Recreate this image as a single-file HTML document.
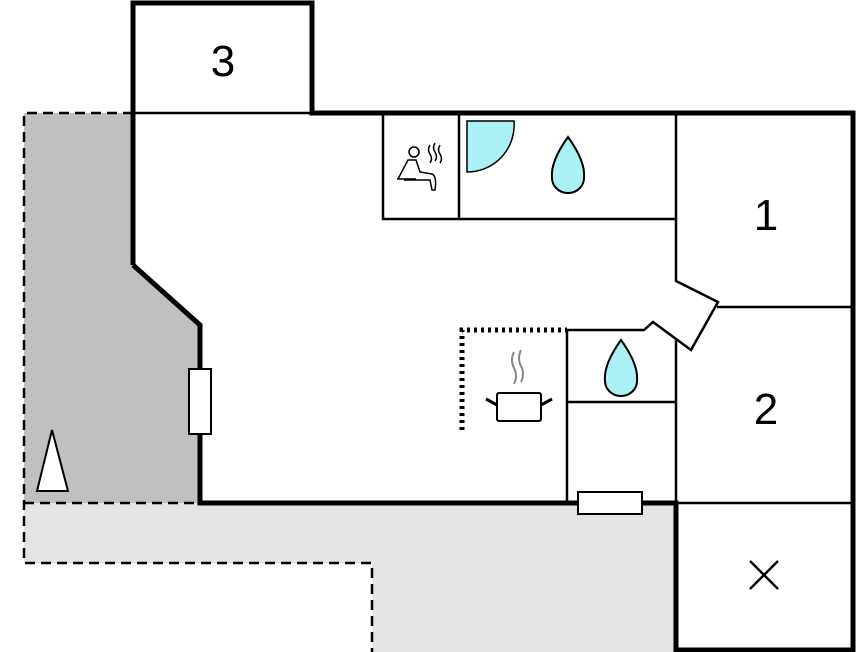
<!DOCTYPE html>
<html><head><style>body{margin:0;background:#fff}svg{display:block}</style></head><body>
<svg width="857" height="652" viewBox="0 0 857 652" xmlns="http://www.w3.org/2000/svg" font-family="Liberation Sans, sans-serif">
<polygon points="24,113 133,113 133,265 200,325 200,503 24,503" fill="#c0c0c0"/>
<polygon points="24,503 676,503 676,652 372,652 372,563 24,563" fill="#e4e4e4"/>
<g fill="none" stroke="#000" stroke-width="2.5" stroke-dasharray="10,6">
<polyline points="133,113 24,113 24,563 372,563 372,652"/>
<line x1="24" y1="503" x2="200" y2="503"/>
</g>
<g fill="none" stroke="#000" stroke-width="2.5">
<line x1="133" y1="113" x2="312" y2="113"/>
<rect x="383" y="113" width="76" height="106"/>
<line x1="676" y1="113" x2="676" y2="219"/>
<polyline points="459,219 676,219 676,281 718,302 691,350 653,322 644,330 567,330 567,503"/>
<line x1="717" y1="307" x2="855" y2="307"/>
<line x1="676" y1="340" x2="676" y2="650"/>
<line x1="567" y1="402" x2="676" y2="402"/>
<line x1="676" y1="503" x2="855" y2="503"/>
<line x1="750" y1="561" x2="778" y2="589"/><line x1="778" y1="561" x2="750" y2="589"/>
</g>
<g fill="none" stroke="#000" stroke-width="5">
<polyline points="133,265 133,3 312,3 312,113 853,113 853,650 676,650 676,503 200,503 200,325 133,265"/>
</g>
<g fill="none" stroke="#000" stroke-width="5" stroke-dasharray="3,4">
<polyline points="462,430 462,330 567,330"/>
</g>
<rect x="189" y="369" width="22" height="65" fill="#fff" stroke="#000" stroke-width="2"/>
<rect x="578" y="492" width="64" height="22" fill="#fff" stroke="#000" stroke-width="2"/>
<polygon points="37,491 68,491 52,430" fill="#fff" stroke="#000" stroke-width="2"/>
<path d="M467,121 L514,121 A47,47 0 0 1 467,172 Z" fill="#aaf0f5" stroke="#000" stroke-width="1.5"/>
<path d="M568,137 C581,155 585,168 584,178 A16,15 0 0 1 552,178 C551,168 555,155 568,137 Z" fill="#aaf0f5" stroke="#000" stroke-width="2"/>
<path d="M621,340 C634,358 638,371 637,381 A16,15 0 0 1 605,381 C604,371 608,358 621,340 Z" fill="#aaf0f5" stroke="#000" stroke-width="2"/>
<g fill="none" stroke="#000" stroke-width="1.5">
<circle cx="414" cy="152" r="5"/>
<path d="M398,179 L408,160 L416,160 L420,172 L432,174 Q437,176 435,190 L432,190 L430,180 L404,180"/>
<line x1="397" y1="179" x2="416" y2="179"/>
<path d="M430,145 q-3,5 0,9 q3,5 0,9 M435,143 q-3,5 0,9 q3,5 0,9 M440,145 q-3,5 0,9 q3,5 0,9"/>
</g>
<rect x="497" y="393" width="44" height="28" fill="#fff" stroke="#000" stroke-width="2" rx="2"/>
<line x1="486" y1="399" x2="497" y2="405" stroke="#000" stroke-width="3"/>
<line x1="552" y1="399" x2="541" y2="405" stroke="#000" stroke-width="3"/>
<path d="M514,352 q-4,8 0,16 q4,8 0,16 M521,350 q-4,8 0,16 q4,8 0,16" fill="none" stroke="#888" stroke-width="2"/>
<g font-size="44" text-anchor="middle" fill="#000">
<text x="223" y="76">3</text>
<text x="766" y="230">1</text>
<text x="766" y="424">2</text>
</g>
</svg>
</body></html>
